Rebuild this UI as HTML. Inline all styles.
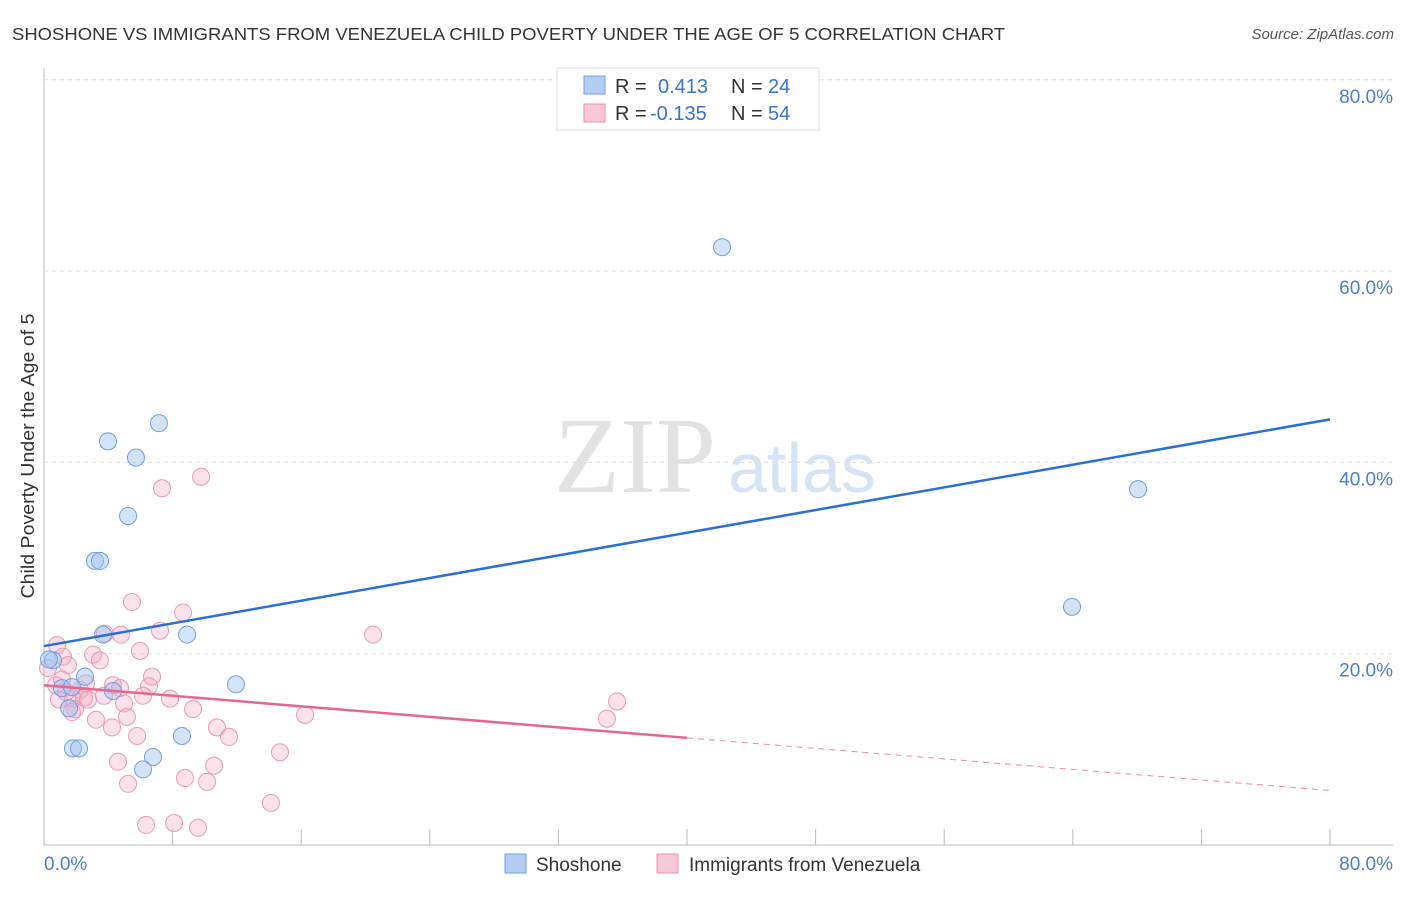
<!DOCTYPE html>
<html><head><meta charset="utf-8"><style>
body{margin:0;background:#fff;font-family:"Liberation Sans",sans-serif;}
svg text{font-family:"Liberation Sans",sans-serif;}
</style></head><body>
<svg width="1406" height="892" id="chart">
<text x="12" y="40" font-size="17.5" fill="#333" textLength="993" lengthAdjust="spacingAndGlyphs">SHOSHONE VS IMMIGRANTS FROM VENEZUELA CHILD POVERTY UNDER THE AGE OF 5 CORRELATION CHART</text>
<text x="1394" y="39" font-size="15" fill="#555" font-style="italic" text-anchor="end">Source: ZipAtlas.com</text>
<text x="635" y="492" font-size="108" fill="#e2e2e2" text-anchor="middle" style="font-family:'Liberation Serif',serif">ZIP</text>
<text x="802" y="492" font-size="70" fill="#d6e3f5" text-anchor="middle">atlas</text>
<text transform="translate(34,456) rotate(-90)" font-size="18" fill="#333" text-anchor="middle" textLength="285" lengthAdjust="spacingAndGlyphs">Child Poverty Under the Age of 5</text>
<g id="grid"></g><g id="marks"></g>
<g>
<rect x="557" y="68" width="262" height="62" fill="#fff" stroke="#ddd"/>
<rect x="584" y="76" width="21" height="18" fill="#b3cef2" stroke="#6f9fe0"/>
<rect x="584" y="104" width="21" height="18" fill="#f8c6d6" stroke="#e890b0"/>
<text x="615" y="93" font-size="20" fill="#333">R = </text><text x="658" y="93" font-size="20" fill="#3a72cf">0.413</text>
<text x="731" y="93" font-size="20" fill="#333">N = </text><text x="768" y="93" font-size="20" fill="#3a72cf">24</text>
<text x="615" y="120" font-size="20" fill="#333">R = </text><text x="650" y="120" font-size="20" fill="#3a72cf">-0.135</text>
<text x="731" y="120" font-size="20" fill="#333">N = </text><text x="768" y="120" font-size="20" fill="#3a72cf">54</text>
</g>
<g>
<rect x="505" y="854" width="21" height="19" fill="#b3cef2" stroke="#6f9fe0"/>
<text x="536" y="871" font-size="19" fill="#333">Shoshone</text>
<rect x="657" y="854" width="21" height="19" fill="#f8c6d6" stroke="#e890b0"/>
<text x="689" y="871" font-size="19" fill="#333">Immigrants from Venezuela</text>
</g>
</svg>
<script>
const yTicks=[20,40,60,80];
const yTickLabels=["20.0%","40.0%","60.0%","80.0%"];
const xTickLabels=["0.0%","80.0%"];
const blueX=[42.18,68.06,63.95,7.15,3.98,5.72,5.23,3.17,3.48,3.67,8.90,11.94,4.29,1.12,0.56,0.31,2.55,1.56,1.80,2.18,6.78,6.16,8.58,1.74];
const blueY=[62.5,37.2,24.9,44.1,42.2,40.5,34.4,29.7,29.7,22.0,22.0,16.8,16.1,16.4,19.3,19.4,17.6,14.3,10.1,10.1,9.2,7.9,11.4,16.5];
const pinkX=[9.77,7.34,5.47,8.65,20.47,4.79,3.79,7.22,0.81,5.97,3.05,1.18,1.49,0.25,6.72,6.53,4.29,2.61,0.75,4.73,2.24,3.73,6.16,7.84,1.80,0.93,2.49,4.98,1.93,1.74,3.23,5.16,9.27,16.24,35.65,10.76,4.23,5.79,11.51,35.02,14.68,4.60,10.58,8.77,5.23,10.14,14.12,6.35,8.09,9.58,1.12,2.74,1.37,3.48];
const pinkY=[38.5,37.3,25.4,24.3,22.0,22.0,22.1,22.4,20.9,20.3,19.9,19.7,18.8,18.5,17.6,16.6,16.7,16.9,16.7,16.4,16.2,15.6,15.6,15.3,15.3,15.2,15.4,14.8,14.2,13.9,13.1,13.4,14.2,13.6,15.0,12.3,12.3,11.4,11.3,13.2,9.7,8.7,8.3,7.0,6.4,6.6,4.4,2.1,2.3,1.8,17.3,15.2,16.0,19.3];
const blueTrend=[20.8,44.5];
const pinkTrend=[16.7,5.7];
const pinkSolidEnd=40;
const NS="http://www.w3.org/2000/svg";
const X=v=>44+v*16.075, Y=v=>845-v*9.565;
function mk(t,a,p){const e=document.createElementNS(NS,t);for(const k in a)e.setAttribute(k,a[k]);p.appendChild(e);return e;}
const g=document.getElementById('grid'), m=document.getElementById('marks');
let ax=mk('line',{x1:44,y1:68,x2:44,y2:845,stroke:'#bbb'},g);


let bx=mk('line',{x1:44,y1:845,x2:1393,y2:845,stroke:'#bbb'},g);


yTicks.forEach((t,i)=>{
 const l=mk('line',{x1:44,y1:Y(t),x2:1393,y2:Y(t),stroke:'#ddd','stroke-dasharray':'4,4'},g);
 
 
 const tx=mk('text',{x:1393,y:Y(t)+23,'font-size':19,fill:'#4a7fd0','text-anchor':'end'},g);tx.textContent=yTickLabels[i];
 
 
});
for(let k=1;k<=10;k++){const l=mk('line',{x1:X(k*8),y1:829,x2:X(k*8),y2:845,stroke:'#bbb'},g);
 
 }
let t0=mk('text',{x:44,y:870,'font-size':19,fill:'#4a7fd0'},g);t0.textContent=xTickLabels[0];


let t1=mk('text',{x:1393,y:870,'font-size':19,fill:'#4a7fd0','text-anchor':'end'},g);t1.textContent=xTickLabels[1];


pinkX.forEach((x,i)=>{const c=mk('circle',{cx:X(x),cy:Y(pinkY[i]),r:8.5,fill:'rgba(244,170,195,0.35)',stroke:'#eb98b6','stroke-width':1},m);
 
 });
blueX.forEach((x,i)=>{const c=mk('circle',{cx:X(x),cy:Y(blueY[i]),r:8.5,fill:'rgba(160,196,240,0.45)',stroke:'#6f9fe0','stroke-width':1},m);
 
 });
const pAt=x=>pinkTrend[0]+(pinkTrend[1]-pinkTrend[0])*x/80;
let pl=mk('line',{x1:X(0),y1:Y(pinkTrend[0]),x2:X(pinkSolidEnd),y2:Y(pAt(pinkSolidEnd)),stroke:'#e5668f','stroke-width':2.5},m);


let pd=mk('line',{x1:X(pinkSolidEnd),y1:Y(pAt(pinkSolidEnd)),x2:X(80),y2:Y(pinkTrend[1]),stroke:'#e88aa8','stroke-width':1,'stroke-dasharray':'6,5'},m);


let bl=mk('line',{x1:X(0),y1:Y(blueTrend[0]),x2:X(80),y2:Y(blueTrend[1]),stroke:'#2a6fd6','stroke-width':2.5},m);


</script>
</body></html>
